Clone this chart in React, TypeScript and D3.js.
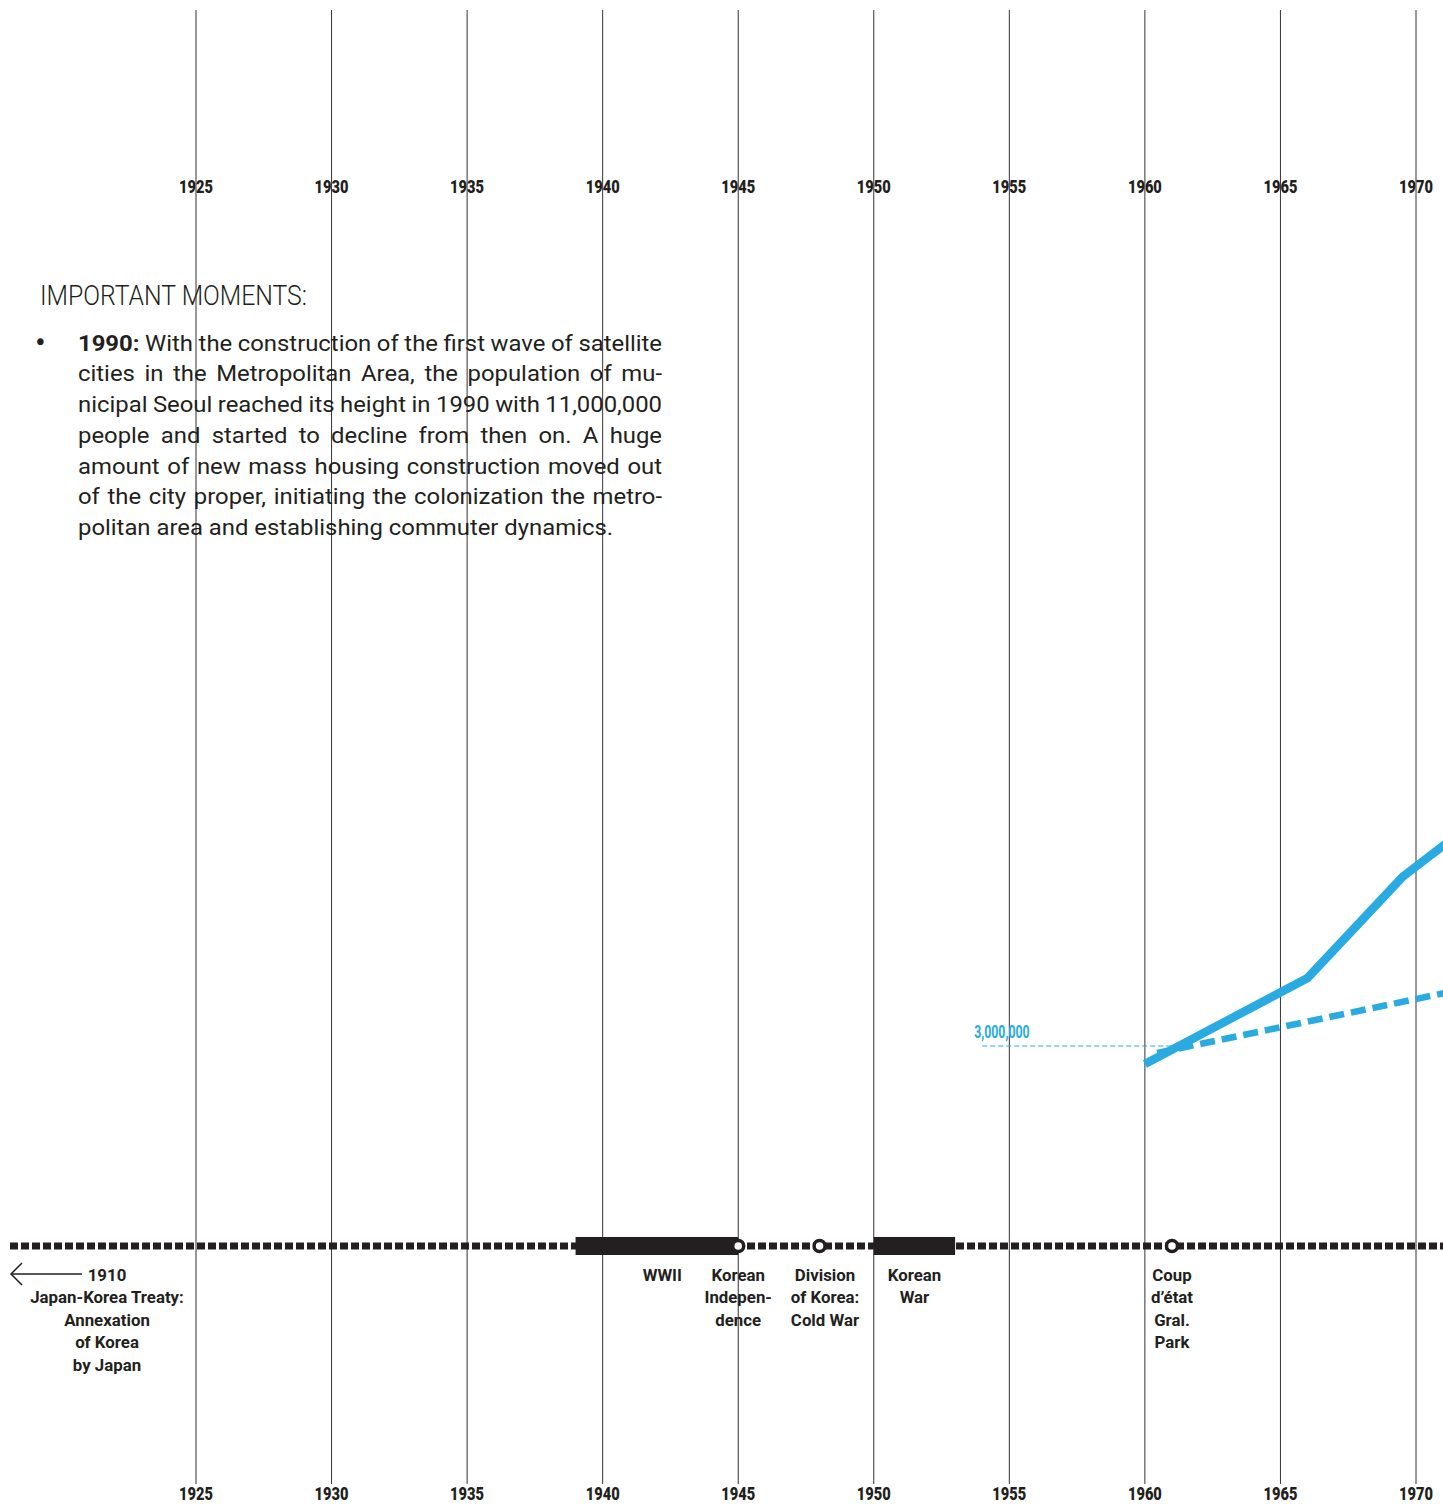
import React, { useLayoutEffect, useRef } from "react";
import * as d3 from "d3";

const W = 1443;
const H = 1504;

// ---------- data ----------
const tickYears = [1925, 1930, 1935, 1940, 1945, 1950, 1955, 1960, 1965, 1970];

const solidYears = [1960, 1966, 1969.5, 1975];
const solidPopulation = [2714000, 4079000, 5683000, 7500000];

const dashedYears = [1960.45, 1975];
const dashedPopulation = [2889000, 4195000];

const referencePopulation = 3000000;
const referenceLabel = "3,000,000";
const referenceYears = [1954.0, 1961.5];

const periodStarts = [1939, 1950];
const periodEnds = [1945, 1953];

const eventMarkerYears = [1945, 1948, 1961];

const eventLabelYears = [1942.2, 1945, 1948.2, 1951.5, 1961];
const eventLabelLines = [
  ["WWII"],
  ["Korean", "Indepen-", "dence"],
  ["Division", "of Korea:", "Cold War"],
  ["Korean", "War"],
  ["Coup", "d’état", "Gral.", "Park"],
];

const annexationLines = ["1910", "Japan-Korea Treaty:", "Annexation", "of Korea", "by Japan"];

const heading = "IMPORTANT MOMENTS:";
const bulletLead = "1990:";
const paragraphLines = [
  " With the construction of the first wave of satellite",
  "cities in the Metropolitan Area, the population of mu-",
  "nicipal Seoul reached its height in 1990 with 11,000,000",
  "people and started to decline from then on. A huge",
  "amount of new mass housing construction moved out",
  "of the city proper, initiating the colonization the metro-",
  "politan area and establishing commuter dynamics.",
];

// ---------- style ----------
const BLUE = "#29abe2";
const INK = "#231f20";
const FONT = "Roboto, 'Noto Sans', sans-serif";

const x = d3.scaleLinear().domain([1925, 1970]).range([196, 1416]);
const y = d3.scaleLinear().domain([0, 10000000]).range([1235, 605]);

const TIMELINE_Y = 1246;
const PARA_X = 78;
const PARA_RIGHT = 662;
const LAST_LINE_RIGHT = 613;
const PARA_Y0 = 350.5;
const PARA_LH = 30.75;

const TICK_SX = 0.78;
const LABEL_SX = 0.99;

function Paragraph() {
  const refs = useRef<(SVGTextElement | null)[]>([]);
  useLayoutEffect(() => {
    const apply = () => {
      const els = refs.current;
      const last = els[paragraphLines.length - 1];
      if (!last) return;
      els.forEach((el) => el && el.setAttribute("word-spacing", "0"));
      const c = (LAST_LINE_RIGHT - PARA_X) / last.getComputedTextLength();
      els.forEach((el, i) => {
        if (!el) return;
        el.setAttribute("transform", `translate(${PARA_X},${PARA_Y0 + i * PARA_LH}) scale(${c},1)`);
        if (i < paragraphLines.length - 1) {
          const nat = el.getComputedTextLength();
          const spaces = ((el.textContent || "").trim().match(/ /g) || []).length;
          if (spaces > 0) {
            el.setAttribute("word-spacing", String(((PARA_RIGHT - PARA_X) / c - nat) / spaces));
          }
        }
      });
    };
    apply();
    if ((document as any).fonts) (document as any).fonts.ready.then(apply);
  }, []);
  return (
    <g fontFamily={FONT} fill={INK}>
      <text x={40} y={305} fontSize={27.5} fontWeight={300} textLength={267} lengthAdjust="spacingAndGlyphs">
        {heading}
      </text>
      <text x={35} y={PARA_Y0 + 2} fontSize={32}>•</text>
      {paragraphLines.map((ln, i) => (
        <text
          key={i}
          ref={(el) => {
            refs.current[i] = el;
          }}
          transform={`translate(${PARA_X},${PARA_Y0 + i * PARA_LH}) scale(0.86,1)`}
          fontSize={22}
          fontWeight={400}
        >
          {i === 0 ? <tspan fontWeight="bold">{bulletLead}</tspan> : null}
          {ln}
        </text>
      ))}
    </g>
  );
}

export default function App() {
  const solidLine = d3
    .line<number>()
    .x((_, i) => x(solidYears[i]))
    .y((d) => y(d))(solidPopulation);
  const dashedLine = d3
    .line<number>()
    .x((_, i) => x(dashedYears[i]))
    .y((d) => y(d))(dashedPopulation);

  return (
    <div style={{ position: "absolute", left: 0, top: 0 }}>
      <svg width={W} height={H} style={{ display: "block", background: "#fff" }}>
        {/* vertical grid */}
        {tickYears.map((t) => (
          <line key={t} x1={x(t)} x2={x(t)} y1={10} y2={1484} stroke="#333" strokeWidth={1} />
        ))}
        {/* tick labels */}
        <g fontFamily={FONT} fontWeight={900} fontSize={18.8} fill={INK} textAnchor="middle">
          {tickYears.map((t) => (
            <text key={"t" + t} transform={`translate(${x(t)},192.7) scale(${TICK_SX},1)`}>
              {t}
            </text>
          ))}
          {tickYears.map((t) => (
            <text key={"b" + t} transform={`translate(${x(t)},1500) scale(${TICK_SX},1)`}>
              {t}
            </text>
          ))}
        </g>

        <Paragraph />

        {/* population lines */}
        <line
          x1={x(referenceYears[0])}
          x2={x(referenceYears[1])}
          y1={y(referencePopulation)}
          y2={y(referencePopulation)}
          stroke={BLUE}
          strokeWidth={1}
          strokeDasharray="5,3"
        />
        <text
          transform={`translate(${x(referenceYears[0]) - 8},1038) scale(0.69,1)`}
          fontFamily={FONT}
          fontWeight={700}
          fontSize={17.8}
          fill={BLUE}
        >
          {referenceLabel}
        </text>
        <path d={dashedLine || ""} fill="none" stroke={BLUE} strokeWidth={6.5} strokeDasharray="15,7" />
        <path d={solidLine || ""} fill="none" stroke={BLUE} strokeWidth={8.5} strokeLinejoin="miter" />

        {/* timeline */}
        <line x1={10} x2={W} y1={TIMELINE_Y} y2={TIMELINE_Y} stroke={INK} strokeWidth={7} strokeDasharray="8,3" />
        {periodStarts.map((s, i) => (
          <rect
            key={"p" + i}
            x={x(s)}
            y={TIMELINE_Y - 9}
            width={x(periodEnds[i]) - x(s)}
            height={18}
            fill={INK}
          />
        ))}
        {eventMarkerYears.map((e) => (
          <circle key={"c" + e} cx={x(e)} cy={TIMELINE_Y} r={5.5} fill="#fff" stroke={INK} strokeWidth={3.5} />
        ))}

        {/* event labels */}
        <g fontFamily={FONT} fontWeight="bold" fontSize={17} fill={INK} textAnchor="middle">
          {eventLabelYears.map((yr, i) => (
            <g key={"l" + i} transform={`translate(${x(yr)},0) scale(${LABEL_SX},1)`}>
              {eventLabelLines[i].map((ln, j) => (
                <text key={j} x={0} y={1281 + j * 22.5}>
                  {ln}
                </text>
              ))}
            </g>
          ))}
          <g transform={`translate(107,0) scale(${LABEL_SX},1)`}>
            {annexationLines.map((ln, j) => (
              <text key={j} x={0} y={1281 + j * 22.5}>
                {ln}
              </text>
            ))}
          </g>
        </g>
        {/* arrow to 1910 */}
        <g stroke={INK} strokeWidth={1.5} fill="none">
          <line x1={11} x2={82} y1={1274} y2={1274} />
          <polyline points="22,1263 11,1274 22,1285" />
        </g>
      </svg>
    </div>
  );
}
